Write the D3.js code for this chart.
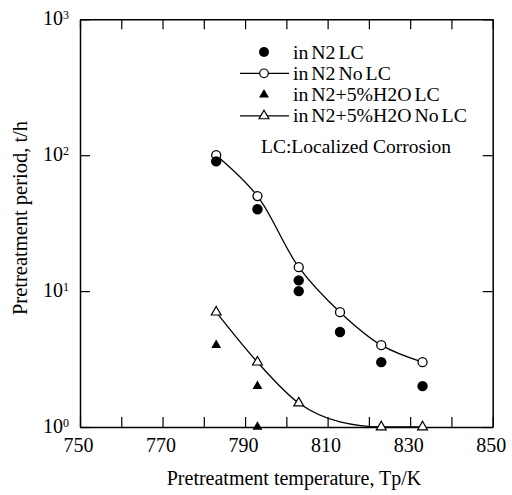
<!DOCTYPE html>
<html>
<head>
<meta charset="utf-8">
<script src="https://cdn.jsdelivr.net/npm/d3@7"></script>
<style>
  body { margin: 0; background: #fff; }
  text { font-family: "Liberation Serif", "DejaVu Serif", serif; fill: #000; }
</style>
</head>
<body>
<div id="chart"></div>
<script>
// data
const temps = [783, 793, 803, 813, 823, 833];
const n2NoLC = [100, 50, 15, 7, 4, 3];          // open circles + fitted line
const n2LC_x = [783, 793, 803, 803, 813, 823, 833];
const n2LC_y = [90, 40, 12, 10, 5, 3, 2];      // filled circles
const h2oNoLC_x = [783, 793, 803, 823, 833];
const h2oNoLC_y = [7, 3, 1.5, 1, 1];           // open triangles
const h2oFit = [7, 3, 1.5, 1.09, 1.0, 1.0];    // fitted line for open triangles
const h2oLC_x = [783, 793, 793];
const h2oLC_y = [4, 2, 1];                     // filled triangles
const xTicks = d3.range(750, 851, 10);
const xLabels = [750, 770, 790, 810, 830, 850];
const yTicks = [1, 10, 100, 1000];

const W = 512, H = 495;
const m = { left: 80, right: 19.3, top: 19.3, bottom: 68 };

const svg = d3.select("#chart").append("svg").attr("width", W).attr("height", H);

const x = d3.scaleLinear().domain([750, 850]).range([m.left, W - m.right]);
const y = d3.scaleLog().domain([1, 1000]).range([H - m.bottom, m.top]);

const tickLen = 10;
const gB = svg.append("g").attr("transform", "translate(0," + (H - m.bottom) + ")")
  .call(d3.axisBottom(x).tickValues(xTicks).tickSizeInner(-tickLen).tickSizeOuter(0).tickPadding(15)
    .tickFormat(d => xLabels.includes(d) ? d : ""));
const gT = svg.append("g").attr("transform", "translate(0," + m.top + ")")
  .call(d3.axisTop(x).tickValues(xTicks).tickSizeInner(-tickLen).tickSizeOuter(0).tickFormat(""));
const gL = svg.append("g").attr("transform", "translate(" + m.left + ",0)")
  .call(d3.axisLeft(y).tickValues(yTicks).tickSizeInner(-tickLen).tickSizeOuter(0));
const gR = svg.append("g").attr("transform", "translate(" + (W - m.right) + ",0)")
  .call(d3.axisRight(y).tickValues(yTicks).tickSizeInner(-tickLen).tickSizeOuter(0).tickFormat(""));

[gB, gT, gL, gR].forEach(g => {
  g.attr("font-family", null);
  g.select(".domain").attr("stroke", "#000").attr("stroke-width", 1.5);
  g.selectAll(".tick line").attr("stroke", "#000").attr("stroke-width", 1.2);
});
gB.selectAll(".tick text").style("font-size", "20px").attr("dy", "0.5em").attr("dx", "-2");
gL.selectAll(".tick text").each(function(d) {
  const t = d3.select(this).text("").style("font-size", "20px")
    .attr("x", -11).attr("dy", "0.25em");
  t.append("tspan").text("10");
  t.append("tspan").attr("dy", "-0.5em").style("font-size", "12px").text(Math.round(Math.log10(d)));
});

// fitted lines
const lineN2 = d3.line().x(d => x(d[0])).y(d => y(d[1])).curve(d3.curveCatmullRom.alpha(0.5));
const lineH2O = d3.line().x(d => x(d[0])).y(d => y(d[1])).curve(d3.curveMonotoneX);
svg.append("path").datum(d3.zip(temps, n2NoLC)).attr("d", lineN2)
  .attr("fill", "none").attr("stroke", "#000").attr("stroke-width", 1.3);
svg.append("path").datum(d3.zip(temps, h2oFit)).attr("d", lineH2O)
  .attr("fill", "none").attr("stroke", "#000").attr("stroke-width", 1.3);

const tri = d3.symbol().type(d3.symbolTriangle).size(42);

// markers: open first, filled on top
svg.append("g").selectAll("circle").data(d3.zip(temps, n2NoLC)).join("circle")
  .attr("cx", d => x(d[0])).attr("cy", d => y(d[1])).attr("r", 4.5)
  .attr("fill", "#fff").attr("stroke", "#000").attr("stroke-width", 1.3);
svg.append("g").selectAll("circle").data(d3.zip(n2LC_x, n2LC_y)).join("circle")
  .attr("cx", d => x(d[0])).attr("cy", d => y(d[1])).attr("r", 5.2).attr("fill", "#000");
svg.append("g").selectAll("path").data(d3.zip(h2oNoLC_x, h2oNoLC_y)).join("path")
  .attr("d", tri).attr("transform", d => "translate(" + x(d[0]) + "," + y(d[1]) + ")")
  .attr("fill", "#fff").attr("stroke", "#000").attr("stroke-width", 1.2);
svg.append("g").selectAll("path").data(d3.zip(h2oLC_x, h2oLC_y)).join("path")
  .attr("d", tri).attr("transform", d => "translate(" + x(d[0]) + "," + y(d[1]) + ")").attr("fill", "#000");

// legend
const legend = [
  { label: "in N2 LC", shape: "circle", filled: true, line: false },
  { label: "in N2 No LC", shape: "circle", filled: false, line: true },
  { label: "in N2+5%H2O LC", shape: "tri", filled: true, line: false },
  { label: "in N2+5%H2O No LC", shape: "tri", filled: false, line: true }
];
const lg = svg.append("g");
legend.forEach((d, i) => {
  const yy = 52 + i * 21.3;
  if (d.line) lg.append("line").attr("x1", 240).attr("x2", 289).attr("y1", yy).attr("y2", yy)
    .attr("stroke", "#000").attr("stroke-width", 1.2);
  if (d.shape === "circle") lg.append("circle").attr("cx", 264).attr("cy", yy).attr("r", d.filled ? 5 : 4.3)
    .attr("fill", d.filled ? "#000" : "#fff").attr("stroke", d.filled ? "none" : "#000").attr("stroke-width", 1.2);
  else lg.append("path").attr("d", tri).attr("transform", "translate(264," + yy + ")")
    .attr("fill", d.filled ? "#000" : "#fff").attr("stroke", d.filled ? "none" : "#000").attr("stroke-width", 1.2);
  lg.append("text").attr("x", 293).attr("y", yy).attr("dy", "0.33em").style("font-size", "19.8px")
    .style("word-spacing", "-2px").text(d.label);
});
lg.append("text").attr("x", 261).attr("y", 147).attr("dy", "0.33em").style("font-size", "19.5px")
  .text("LC:Localized Corrosion");

// axis titles
svg.append("text").attr("x", 294).attr("y", 478).attr("dy", "0.33em")
  .attr("text-anchor", "middle").style("font-size", "20px").text("Pretreatment temperature, Tp/K");
svg.append("text").attr("transform", "translate(20,218) rotate(-90)")
  .attr("dy", "0.33em").attr("text-anchor", "middle").style("font-size", "20.5px").text("Pretreatment period, t/h");
</script>
</body>
</html>
